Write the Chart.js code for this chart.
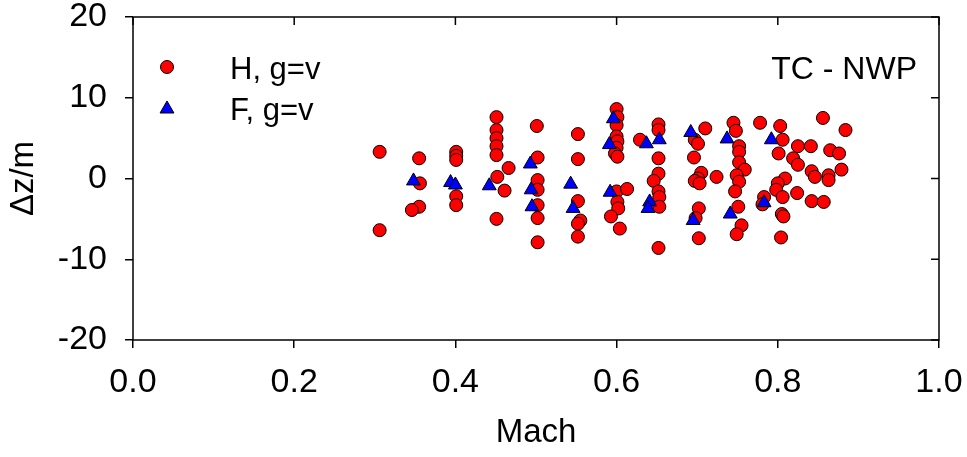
<!DOCTYPE html>
<html lang="en">
<head>
    <meta charset="UTF-8">
    <title>TC - NWP Mach scatter</title>
    <script src="https://cdn.jsdelivr.net/npm/chart.js"></script>
    <style>
        body {
            margin: 0;
            background: #fff;
        }
        #chart {
            display: block;
        }
    </style>
</head>
<body>

<canvas id="chart" width="967" height="457"></canvas>

<script>
    // H, g=v (red circles): Mach and Δz
    const hMach = [
        0.306, 0.306,
        0.355, 0.356, 0.355, 0.346,
        0.401, 0.401, 0.401, 0.401, 0.401,
        0.451, 0.451, 0.451, 0.451, 0.451, 0.452, 0.451,
        0.466, 0.461,
        0.501, 0.502, 0.502, 0.502, 0.502, 0.502, 0.502,
        0.552, 0.552, 0.552, 0.555, 0.552, 0.552,
        0.600, 0.601, 0.600, 0.600, 0.601, 0.600, 0.598, 0.601,
        0.600, 0.613, 0.601, 0.602, 0.593, 0.604,
        0.629,
        0.652, 0.652, 0.652, 0.652, 0.646, 0.652, 0.653, 0.653, 0.652,
        0.710, 0.697, 0.701, 0.696, 0.705, 0.701, 0.697, 0.703, 0.702, 0.698, 0.702,
        0.724,
        0.745, 0.748, 0.752, 0.752, 0.752, 0.759, 0.749, 0.752, 0.747, 0.751, 0.755, 0.749,
        0.778, 0.803, 0.806, 0.801, 0.825, 0.841, 0.819, 0.825,
        0.856, 0.884, 0.865, 0.876, 0.879,
        0.842, 0.846, 0.863, 0.863,
        0.809, 0.800, 0.798, 0.806, 0.824, 0.842, 0.857,
        0.783, 0.781, 0.805, 0.807, 0.804
    ];
    const hDz = [
        3.3, -6.4,
        2.5, -0.6, -3.5, -3.9,
        3.3, 2.8, 2.3, -2.2, -3.3,
        7.6, 6.0, 5.0, 4.0, 2.9, 0.2, -5.0,
        1.3, -1.5,
        6.5, 2.6, -0.2, -1.4, -3.3, -4.9, -7.9,
        5.5, 2.4, -2.8, -5.2, -5.6, -7.2,
        8.6, 7.6, 6.6, 5.2, 4.6, 3.8, 3.1, 2.7,
        -1.6, -1.3, -2.9, -3.7, -4.7, -6.2,
        4.8,
        6.7, 6.0, 2.5, 0.6, -0.3, -1.6, -2.3, -3.5, -8.6,
        6.2, 4.8, 4.3, 2.6, 0.7, 0.0, -0.3, -0.6, -3.7, -4.9, -7.4,
        0.2,
        6.9, 5.9, 4.0, 3.3, 2.0, 1.1, 0.4, -0.4, -1.6, -3.5, -5.8, -6.9,
        6.9, 6.5, 4.8, 3.1, 4.0, 4.0, 2.5, 1.7,
        7.5, 6.0, 3.5, 3.1, 1.1,
        0.9, 0.2, 0.4, -0.2,
        0.0, -0.6, -1.4, -2.3, -1.8, -2.8, -2.9,
        -2.3, -3.2, -4.4, -4.7, -7.3
    ];

    // F, g=v (blue triangles)
    const fMach = [0.348, 0.394, 0.400, 0.442, 0.493, 0.494, 0.495, 0.543, 0.546, 0.596, 0.591,
                   0.592, 0.637, 0.653, 0.641, 0.639, 0.692, 0.695, 0.737, 0.741, 0.792, 0.783];
    const fDz = [-0.3, -0.5, -0.8, -0.9, 1.8, -1.4, -3.5, -0.7, -3.7, 7.4, 4.2,
                 -1.7, 4.3, 4.8, -2.9, -3.7, 5.7, -5.2, 4.9, -4.4, 4.8, -3.0];

    const xTicks = [0.0, 0.2, 0.4, 0.6, 0.8, 1.0];
    const yTicks = [-20, -10, 0, 10, 20];
    const seriesLabels = ['H, g=v', 'F, g=v'];
    const cornerLabel = 'TC - NWP';

    const FONT = 'Arial, "Liberation Sans", sans-serif';

    function toPoints(xs, ys) {
        return xs.map((x, i) => ({ x: x, y: ys[i] }));
    }

    // 흰 배경 + 위/오른쪽 안쪽 눈금 + 테두리
    const framePlugin = {
        id: 'frame',
        beforeDraw(chart) {
            const ctx = chart.ctx;
            ctx.save();
            ctx.fillStyle = '#fff';
            ctx.fillRect(0, 0, chart.width, chart.height);
            ctx.restore();
        },
        afterDraw(chart) {
            const ctx = chart.ctx;
            const a = chart.chartArea;
            const xs = chart.scales.x, ys = chart.scales.y;
            ctx.save();
            ctx.strokeStyle = '#000';
            ctx.lineWidth = 1.5;
            ctx.strokeRect(a.left, a.top, a.right - a.left, a.bottom - a.top);
            ctx.beginPath();
            xTicks.forEach(v => {
                const px = xs.getPixelForValue(v);
                ctx.moveTo(px, a.top);
                ctx.lineTo(px, a.top + 8);
            });
            yTicks.forEach(v => {
                const py = ys.getPixelForValue(v);
                ctx.moveTo(a.right, py);
                ctx.lineTo(a.right - 8, py);
            });
            ctx.stroke();

            // 범례
            const ds = chart.data.datasets;
            const rows = [{ y: 67, ty: 70 }, { y: 109, ty: 111 }];
            ds.forEach((d, i) => {
                ctx.fillStyle = d.backgroundColor;
                ctx.strokeStyle = '#000';
                ctx.lineWidth = 1;
                Chart.helpers.drawPoint(ctx, {
                    pointStyle: d.pointStyle,
                    radius: d.pointRadius,
                    borderWidth: 1
                }, 167, rows[i].y);
                ctx.fillStyle = '#000';
                ctx.font = '31px ' + FONT;
                ctx.textAlign = 'left';
                ctx.textBaseline = 'middle';
                ctx.fillText(d.label, 230, rows[i].ty);
            });

            ctx.font = '32px ' + FONT;
            ctx.textAlign = 'right';
            ctx.textBaseline = 'middle';
            ctx.fillStyle = '#000';
            ctx.fillText(cornerLabel, 917, 70);
            ctx.restore();
        }
    };

    new Chart(document.getElementById('chart').getContext('2d'), {
        type: 'scatter',
        data: {
            datasets: [{
                label: seriesLabels[0],
                data: toPoints(hMach, hDz),
                pointStyle: 'circle',
                pointRadius: 6.5,
                backgroundColor: '#ff0000',
                borderColor: '#000',
                borderWidth: 1,
                order: 1
            }, {
                label: seriesLabels[1],
                data: toPoints(fMach, fDz),
                pointStyle: 'triangle',
                pointRadius: 8,
                backgroundColor: '#0000ff',
                borderColor: '#000',
                borderWidth: 1,
                order: 0
            }]
        },
        options: {
            responsive: false,
            animation: false,
            devicePixelRatio: 1,
            layout: { padding: { top: 17, right: 28, left: 0, bottom: 0 } },
            plugins: {
                legend: { display: false },
                tooltip: { enabled: false }
            },
            scales: {
                x: {
                    type: 'linear',
                    min: 0,
                    max: 1,
                    afterBuildTicks(scale) {
                        scale.ticks = xTicks.map(v => ({ value: v }));
                    },
                    afterFit(scale) {
                        scale.height = 117;
                        scale.paddingLeft = 0;
                        scale.paddingRight = 0;
                    },
                    ticks: {
                        color: '#000',
                        font: { size: 34, family: FONT },
                        padding: 14,
                        maxRotation: 0,
                        callback: v => v.toFixed(1)
                    },
                    grid: {
                        drawOnChartArea: false,
                        drawTicks: true,
                        tickLength: 8,
                        color: '#000',
                        lineWidth: 1.5
                    },
                    border: { display: false },
                    title: {
                        display: true,
                        text: 'Mach',
                        color: '#000',
                        font: { size: 33, family: FONT }
                    }
                },
                y: {
                    type: 'linear',
                    min: -20,
                    max: 20,
                    afterBuildTicks(scale) {
                        scale.ticks = yTicks.map(v => ({ value: v }));
                    },
                    afterFit(scale) {
                        scale.width = 133;
                        scale.paddingTop = 0;
                        scale.paddingBottom = 0;
                    },
                    ticks: {
                        color: '#000',
                        font: { size: 34, family: FONT },
                        padding: 18
                    },
                    grid: {
                        drawOnChartArea: false,
                        drawTicks: true,
                        tickLength: 8,
                        color: '#000',
                        lineWidth: 1.5
                    },
                    border: { display: false },
                    title: {
                        display: true,
                        text: 'Δz/m',
                        color: '#000',
                        font: { size: 33, family: FONT }
                    }
                }
            }
        },
        plugins: [framePlugin]
    });
</script>

</body>
</html>
